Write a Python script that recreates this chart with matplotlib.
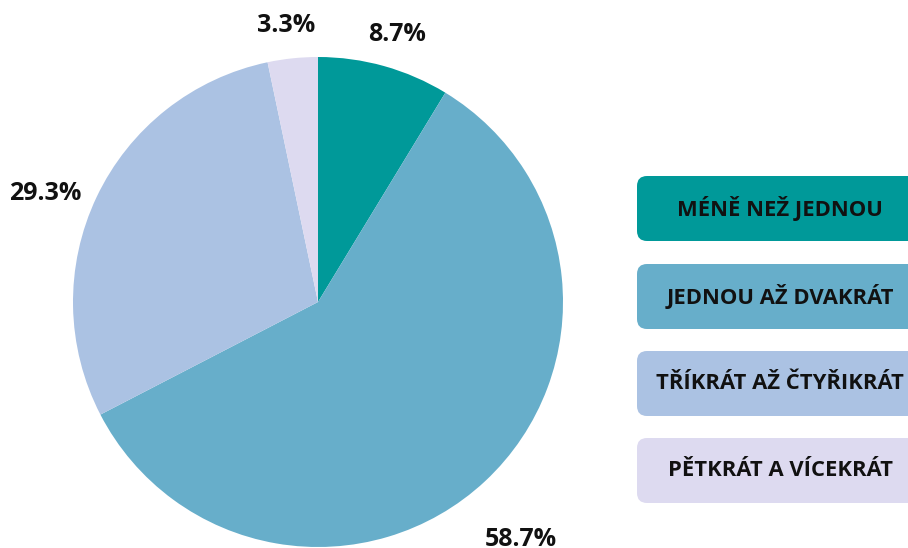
import matplotlib
matplotlib.use("Agg")
import matplotlib.pyplot as plt
from matplotlib.patches import FancyBboxPatch
import numpy as np

categories = ["MÉNĚ NEŽ JEDNOU", "JEDNOU AŽ DVAKRÁT", "TŘÍKRÁT AŽ ČTYŘIKRÁT", "PĚTKRÁT A VÍCEKRÁT"]
values = [8.7, 58.7, 29.3, 3.3]
colors = ["#009999", "#67AECA", "#ABC2E3", "#DDDAF0"]

plt.rcParams['font.family'] = ['Open Sans', 'DejaVu Sans']

W, H = 908, 548
fig = plt.figure(figsize=(W / 100, H / 100), dpi=100)
ax = fig.add_axes([0, 0, 1, 1])

cx, cy, R = 318, H - 302, 245
wedges, texts, autotexts = ax.pie(
    values, colors=colors, startangle=90, counterclock=False,
    center=(cx, cy), radius=R, autopct='%.1f%%', pctdistance=1.17,
    wedgeprops=dict(linewidth=0), frame=True,
    textprops=dict(fontsize=18, fontweight='bold', color='#111111'))
ax.set_xlim(0, W)
ax.set_ylim(0, H)
ax.set_aspect('equal')
ax.axis('off')

# label placement (style): radial distance factor and angular shift (deg)
dist = [1.14, 1.277, 1.196, 1.136]
shift = [-0.7, -2.5, 3.7, 0.7]
for w, t, d, s in zip(wedges, autotexts, dist, shift):
    ang = np.deg2rad((w.theta1 + w.theta2) / 2 + s)
    t.set_position((cx + d * R * np.cos(ang), cy + d * R * np.sin(ang)))
    t.set_va('center')
    t.set_ha('center')

# legend boxes
box_x, box_w, box_h = 637, 290, 65
tops = [176, 264, 351, 438]
for cat, col, top in zip(categories, colors, tops):
    y0 = H - top - box_h
    p = FancyBboxPatch((box_x, y0), box_w, box_h,
                       boxstyle="round,pad=0,rounding_size=10",
                       facecolor=col, edgecolor='none', clip_on=True)
    ax.add_patch(p)
    ax.text(780, y0 + box_h / 2, cat, ha='center', va='center',
            fontsize=15.8, fontweight='bold', color='#111111')

fig.savefig("out.png", dpi=100)
